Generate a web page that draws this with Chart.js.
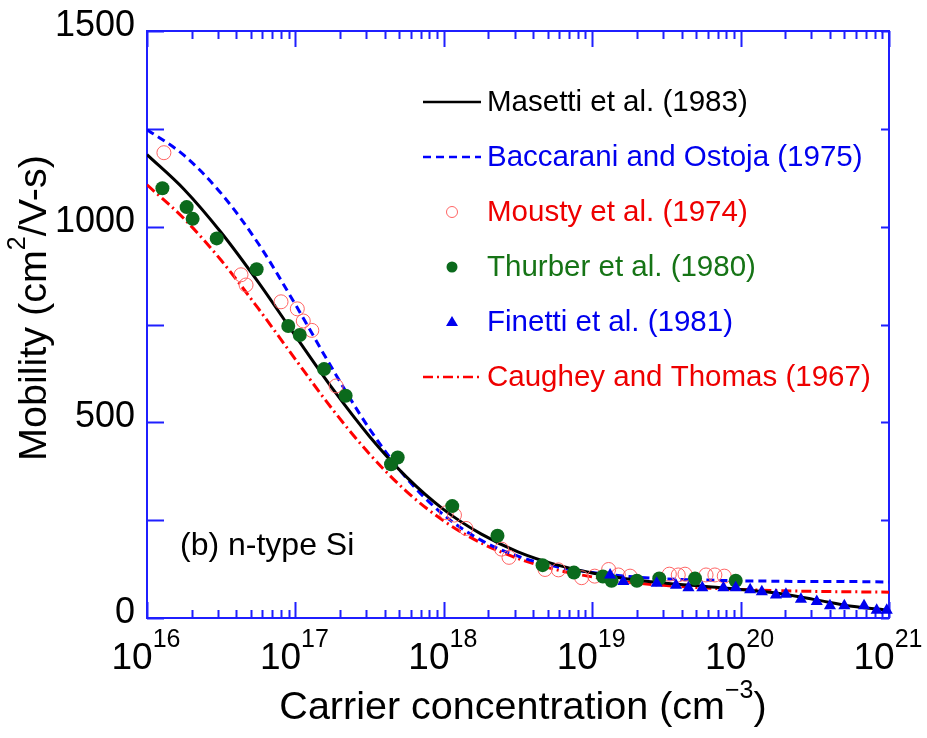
<!DOCTYPE html>
<html>
<head>
<meta charset="utf-8">
<script src="https://cdn.jsdelivr.net/npm/chart.js@4.4.1/dist/chart.umd.min.js"></script>
<style>
  body { margin: 0; background: #fff; }
  canvas { display: block; }
</style>
</head>
<body>
<canvas id="mobility" width="927" height="738"></canvas>
<script>
// electron mobility in n-type Si vs carrier concentration (cm^-3)
let conc = [1e16, 1.78e16, 3.16e16, 5.62e16, 1e17, 1.78e17, 3.16e17, 5.62e17, 1e18, 1.78e18, 3.16e18,
            5.62e18, 1e19, 1.78e19, 3.16e19, 5.62e19, 1e20, 1.78e20, 3.16e20, 5.62e20, 1e21];
let masetti   = [1184, 1095, 985, 858, 721, 586, 464, 360, 277, 215, 169, 137, 115, 99, 89, 81, 73, 63, 47, 30, 20];
let baccarani = [1248, 1182, 1085, 957, 801, 636, 483, 357, 263, 199, 158, 132, 116, 106, 100, 97, 95, 94, 93, 93, 92];
let caughey   = [1107, 1020, 914, 791, 661, 533, 419, 323, 248, 192, 152, 124, 105, 91, 83, 77, 73, 70, 68, 67, 66];

// measured points
let mousty_n  = [1.30e16, 4.30e16, 4.65e16, 8.0e16, 1.03e17, 1.13e17, 1.29e17, 1.88e17, 1.04e18, 1.18e18, 1.41e18,
                 2.45e18, 2.75e18, 4.81e18, 5.92e18, 8.49e18, 1.04e19, 1.29e19, 1.50e19, 1.80e19, 3.31e19,
                 3.80e19, 4.22e19, 5.85e19, 6.71e19, 7.76e19];
let mousty_mu = [1189, 877, 851, 808, 790, 759, 735, 593, 269, 263, 229,
                 176, 155, 124, 123, 103, 107, 124, 110, 107, 112,
                 110, 112, 110, 110, 107];

let thurber_n  = [1.27e16, 1.85e16, 2.03e16, 2.95e16, 5.48e16, 8.95e16, 1.07e17, 1.56e17, 2.18e17, 4.41e17, 4.89e17,
                  1.14e18, 2.30e18, 4.63e18, 7.53e18, 1.18e19, 1.35e19, 2.0e19, 2.83e19, 4.93e19, 9.27e19];
let thurber_mu = [1098, 1050, 1020, 970, 891, 746, 723, 636, 568, 393, 410,
                  286, 210, 135, 116, 106, 95, 95, 101, 101, 95];

let finetti_n  = [1.32e19, 1.62e19, 2.72e19, 3.67e19, 4.45e19, 5.52e19, 7.66e19, 9.27e19, 1.16e20, 1.39e20,
                  1.73e20, 2.02e20, 2.55e20, 3.26e20, 4.0e20, 5.0e20, 6.79e20, 8.26e20, 9.66e20];
let finetti_mu = [110, 93, 89, 84, 77, 77, 77, 77, 72, 67,
                  59, 61, 48, 42, 31, 31, 31, 20, 20];

let x_decades = [16, 17, 18, 19, 20, 21];
let y_ticks = [0, 250, 500, 750, 1000, 1250, 1500];
let y_labels = [0, 500, 1000, 1500];

const FONT = '"Liberation Sans", Arial, sans-serif';
const AXIS_BLUE = '#1f1fff';
const GREEN = '#0b6a1c';

function pts(xs, ys) {
    return xs.map((x, i) => ({x: x, y: ys[i]}));
}

// draws a row of text pieces (normal + superscript) centred on cx
function drawRuns(ctx, runs, cx, baseY) {
    let total = 0;
    runs.forEach(r => {
        ctx.font = r.size + 'px ' + FONT;
        r.w = ctx.measureText(r.text).width;
        total += r.w;
    });
    let x = cx - total / 2;
    ctx.textAlign = 'left';
    ctx.textBaseline = 'alphabetic';
    runs.forEach(r => {
        ctx.font = r.size + 'px ' + FONT;
        ctx.fillText(r.text, x, baseY - (r.rise || 0));
        x += r.w;
    });
}

const axesFrame = {
    id: 'axesFrame',
    beforeDatasetsDraw(chart) {
        const {ctx, chartArea: a, scales: {x, y}} = chart;
        ctx.save();
        ctx.strokeStyle = AXIS_BLUE;
        ctx.lineWidth = 2;
        ctx.strokeRect(a.left, a.top, a.right - a.left, a.bottom - a.top);
        ctx.beginPath();
        // log ticks on bottom and top, longer at each decade
        x_decades.forEach(e => {
            for (let m = 1; m <= 9; m++) {
                const v = m * Math.pow(10, e);
                if (v > 1e21) break;
                const px = Math.round(x.getPixelForValue(v)) + 0.5;
                const len = m === 1 ? 16 : 8;
                ctx.moveTo(px, a.bottom); ctx.lineTo(px, a.bottom - len);
                ctx.moveTo(px, a.top); ctx.lineTo(px, a.top + len);
            }
        });
        y_ticks.forEach(v => {
            const py = Math.round(y.getPixelForValue(v)) + 0.5;
            ctx.moveTo(a.left, py); ctx.lineTo(a.left + 17, py);
            ctx.moveTo(a.right, py); ctx.lineTo(a.right - 8, py);
        });
        ctx.stroke();
        ctx.restore();
    },
    afterDraw(chart) {
        const {ctx, chartArea: a, scales: {x, y}} = chart;
        ctx.save();
        ctx.fillStyle = '#000';

        // y tick labels
        ctx.font = '36px ' + FONT;
        ctx.textAlign = 'right';
        ctx.textBaseline = 'middle';
        y_labels.forEach(v => ctx.fillText(String(v), a.left - 12, y.getPixelForValue(v) - 5));

        // x tick labels as powers of ten
        x_decades.forEach(e => {
            drawRuns(ctx, [{text: '10', size: 37}, {text: String(e), size: 25, rise: 22}],
                     x.getPixelForValue(Math.pow(10, e)) - 1, 669);
        });

        // axis titles
        drawRuns(ctx, [{text: 'Carrier concentration (cm', size: 39.5},
                       {text: '\u22123', size: 25, rise: 21},
                       {text: ')', size: 39.5}], 523, 719);
        ctx.save();
        ctx.translate(46, 308);
        ctx.rotate(-Math.PI / 2);
        drawRuns(ctx, [{text: 'Mobility (cm', size: 39.5},
                       {text: '2', size: 25, rise: 21},
                       {text: '/V-s)', size: 39.5}], 0, 0);
        ctx.restore();

        // sample label
        ctx.font = '32px ' + FONT;
        ctx.textAlign = 'left';
        ctx.textBaseline = 'middle';
        ctx.fillText('(b) n-type Si', 180, 546);

        // legend
        const textColors = ['#000', '#0000ee', '#ee0000', '#167416', '#0000ee', '#ee0000'];
        chart.data.datasets.forEach((ds, i) => {
            const ry = 102 + i * 55;
            if (ds.showLine) {
                ctx.strokeStyle = ds.borderColor;
                ctx.lineWidth = 2.5;
                ctx.setLineDash(ds.borderDash || []);
                ctx.beginPath();
                ctx.moveTo(423, ry); ctx.lineTo(481, ry);
                ctx.stroke();
                ctx.setLineDash([]);
            } else if (ds.pointStyle === 'triangle') {
                ctx.fillStyle = ds.backgroundColor;
                ctx.beginPath();
                ctx.moveTo(452, ry - 6); ctx.lineTo(458, ry + 4); ctx.lineTo(446, ry + 4);
                ctx.closePath();
                ctx.fill();
            } else {
                ctx.beginPath();
                ctx.arc(452, ry, 5.5, 0, Math.PI * 2);
                if (ds.backgroundColor === 'transparent') {
                    ctx.strokeStyle = ds.borderColor;
                    ctx.lineWidth = 1;
                    ctx.stroke();
                } else {
                    ctx.fillStyle = ds.backgroundColor;
                    ctx.fill();
                }
            }
            ctx.fillStyle = textColors[i];
            ctx.font = '29.5px ' + FONT;
            ctx.textAlign = 'left';
            ctx.textBaseline = 'middle';
            ctx.fillText(ds.label, 487, ry + 1);
        });
        ctx.restore();
    }
};

function renderChart() {
    const canvas = document.getElementById('mobility');
    new Chart(canvas, {
        type: 'scatter',
        data: {
            datasets: [
                {label: 'Masetti et al. (1983)', data: pts(conc, masetti), showLine: true, order: 3,
                 borderColor: '#000', borderWidth: 3, pointRadius: 0, cubicInterpolationMode: 'monotone'},
                {label: 'Baccarani and Ostoja (1975)', data: pts(conc, baccarani), showLine: true, order: 4,
                 borderColor: '#0000ff', borderWidth: 3, borderDash: [8, 5], pointRadius: 0,
                 cubicInterpolationMode: 'monotone'},
                {label: 'Mousty et al. (1974)', data: pts(mousty_n, mousty_mu), order: 2, clip: false,
                 pointStyle: 'circle', pointRadius: 7, borderWidth: 1, borderColor: '#ff6464',
                 backgroundColor: 'transparent'},
                {label: 'Thurber et al. (1980)', data: pts(thurber_n, thurber_mu), order: 1, clip: false,
                 pointStyle: 'circle', pointRadius: 7, borderWidth: 0, borderColor: GREEN,
                 backgroundColor: GREEN},
                {label: 'Finetti et al. (1981)', data: pts(finetti_n, finetti_mu), order: 0, clip: false,
                 pointStyle: 'triangle', pointRadius: 7, borderWidth: 0, borderColor: '#0000ee',
                 backgroundColor: '#0000ee'},
                {label: 'Caughey and Thomas (1967)', data: pts(conc, caughey), showLine: true, order: 5,
                 borderColor: '#ff0000', borderWidth: 3, borderDash: [10, 4, 2, 4], pointRadius: 0,
                 cubicInterpolationMode: 'monotone'}
            ]
        },
        options: {
            responsive: false,
            animation: false,
            devicePixelRatio: 1,
            layout: {padding: {left: 147, right: 38, top: 31, bottom: 120}},
            plugins: {legend: {display: false}, tooltip: {enabled: false}},
            scales: {
                x: {type: 'logarithmic', min: 1e16, max: 1e21, display: false},
                y: {type: 'linear', min: 0, max: 1500, display: false}
            }
        },
        plugins: [axesFrame]
    });
}

renderChart();
</script>
</body>
</html>
